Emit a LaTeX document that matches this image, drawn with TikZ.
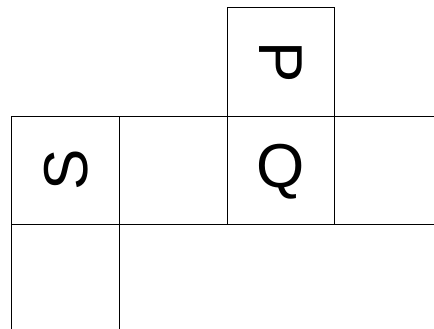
\documentclass[tikz,border=0pt]{standalone}
\usepackage{fontspec}
\setmainfont{Liberation Sans}
\begin{document}
\begin{tikzpicture}[x=1pt,y=-1pt,
  gridline/.style={draw=black,line width=1pt},
  letter/.style={font=\fontsize{62}{62}\selectfont,inner sep=0pt,anchor=center}]
\useasboundingbox[fill=white] (0,0) rectangle (434,329);
\draw[gridline] (227,8) rectangle (334,116);
\draw[gridline] (11,116) -- (434,116);
\draw[gridline] (11,224) -- (434,224);
\draw[gridline] (11,116) -- (11,329);
\draw[gridline] (119,116) -- (119,329);
\draw[gridline] (227,116) -- (227,224);
\draw[gridline] (334,116) -- (334,224);
\node[letter,rotate=-90] (p) at (281,62) {P};
\node[letter] (q) at (281,172) {Q};
\node[letter,rotate=90] (s) at (66,170) {S};
\end{tikzpicture}
\end{document}
